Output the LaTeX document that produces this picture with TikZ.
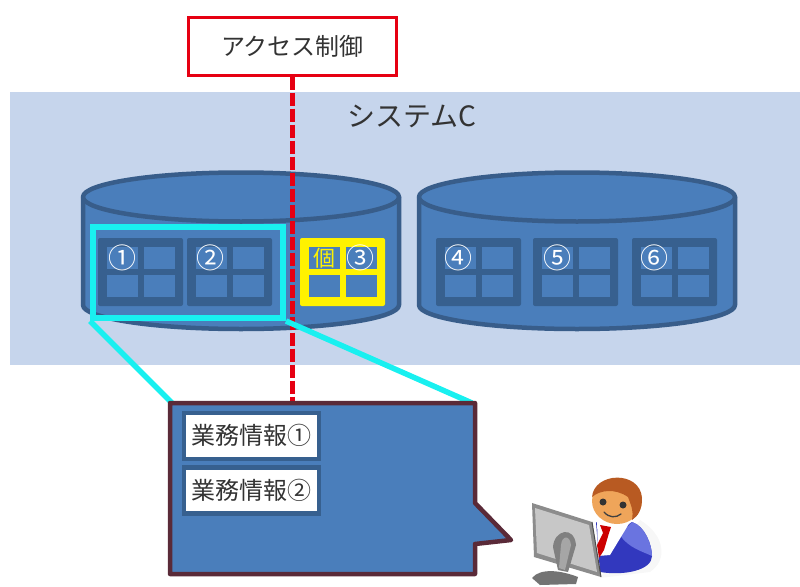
\documentclass[tikz,border=0pt]{standalone}
\usepackage{fontspec}
\setmainfont{Noto Sans CJK JP}
\usetikzlibrary{calc}
\definecolor{band}{HTML}{C6D5EC}
\definecolor{cylfill}{HTML}{4A7EBB}
\definecolor{cylline}{HTML}{385D8A}
\definecolor{gridline}{HTML}{37608F}
\definecolor{cyanline}{HTML}{19F0F0}
\definecolor{redline}{HTML}{E60012}
\definecolor{yel}{HTML}{FFF200}
\definecolor{wine}{HTML}{5A2A38}
\definecolor{suit}{HTML}{3238BE}
\definecolor{suitlight}{HTML}{6A74E0}
\definecolor{skin}{HTML}{EFA55A}
\definecolor{hair}{HTML}{B85A22}
\tikzset{
  cyl/.style={fill=cylfill,draw=cylline,line width=4.5pt,line join=round},
  gridbox/.style={fill=#1,rounded corners=2pt},
  cell/.style={fill=cylfill},
  num/.style={inner sep=0pt,font=\fontsize{28}{28}\selectfont,text=#1},
  infotxt/.style={inner sep=0pt,font=\fontsize{24}{24}\selectfont,text=black!80},
  infowhite/.style={fill=white,draw=gridline,line width=4.5pt,minimum width=135pt,minimum height=46pt,inner sep=0pt,anchor=north west},
}
\newcommand{\drum}[3]{% left, right, name
  \path[cyl] (#1,197) -- (#1,305) arc[start angle=180,end angle=0,x radius={(#2-#1)/2},y radius=24] -- (#2,197) -- cycle;
  \path[cyl] (#1,197) arc[start angle=180,end angle=-180,x radius={(#2-#1)/2},y radius=24.5] coordinate (#3);
}
\newcommand{\blockgrid}[3]{% left x, frame colour, name
  \fill[gridbox=#2] (#1,238) rectangle +(85,68);
  \foreach \dx in {9,46}\foreach \dy in {9,37}{\fill[cell] ($(#1,238)+(\dx,\dy)$) rectangle +(31,22);}
  \coordinate (#3) at ($(#1,238)+(24,20)$);
}
\begin{document}
\begin{tikzpicture}[x=1pt,y=-1pt]
\useasboundingbox (0,0) rectangle (800,586);
\fill[band] (10,92) rectangle (800,365);
\node[inner sep=0pt,font=\fontsize{28}{28}\selectfont,text=black!80] (sys) at (412,116) {システムC};
\drum{83}{399}{drumA}
\drum{419}{735}{drumB}
\blockgrid{98}{gridline}{g1}
\blockgrid{187}{gridline}{g2}
\blockgrid{300}{yel}{g3}
\blockgrid{436}{gridline}{g4}
\blockgrid{533}{gridline}{g5}
\blockgrid{632}{gridline}{g6}
\node[num=white] (n1) at (122,258) {①};
\node[num=white] (n2) at (210,258) {②};
\node[inner sep=0pt,font=\fontsize{22}{22}\selectfont,text=yel] (n0) at (324,258) {個};
\node[num=white] (n3) at (360,258) {③};
\node[num=white] (n4) at (458,258) {④};
\node[num=white] (n5) at (557,258) {⑤};
\node[num=white] (n6) at (654,258) {⑥};
% access control
\node[draw=redline,fill=white,line width=2.2pt,minimum width=208pt,minimum height=58pt,inner sep=0pt,font=\fontsize{24}{24}\selectfont,text=black!80] (ctrl) at (292.5,46.5) {アクセス制御};
\coordinate (calltop) at (292.5,403);
\draw[redline,line width=4.5pt,dash pattern=on 13pt off 3pt] (ctrl.south) -- (calltop);
% selection frame
\node[draw=cyanline,line width=6pt,minimum width=190pt,minimum height=91pt,inner sep=0pt] (sel) at (188,272.5) {};
\coordinate (callTL) at (172,403);
\coordinate (callTR) at (472,403);
\draw[cyanline,line width=5.5pt] (sel.south west) -- (callTL);
\draw[cyanline,line width=5.5pt] (sel.south east) -- (callTR);
% callout
\draw[fill=cylfill,draw=wine,line width=4.5pt,line join=round] (170,403) -- (475,403) -- (475,503) -- (511,540) -- (475,544) -- (475,574) -- (170,574) -- cycle;
\node[infowhite] (i1) at (181.5,410.5) {};
\node[infotxt] (t1) at (i1.center) {業務情報①};
\node[infowhite] (i2) at (181.5,465) {};
\node[infotxt] (t2) at (i2.center) {業務情報②};
% person at the computer
\fill[black!3] (640,520) .. controls (665,535) and (668,560) .. (650,572) -- (600,578) -- cycle;
\fill[suit] (596,522) .. controls (605,530) and (622,530) .. (632,522) .. controls (645,526) and (652,545) .. (652,556) .. controls (652,570) and (625,576) .. (600,572) -- cycle;
\fill[suitlight] (632,522) .. controls (645,526) and (652,545) .. (652,556) .. controls (644,552) and (628,548) .. (620,535) -- cycle;
\fill[white] (597,520) -- (630,522) -- (610,555) -- (598,556) -- cycle;
\fill[red!80!black] (600,525) -- (611,527) -- (609,533) -- (604,550) -- (599,558) -- (597,545) -- (603,533) -- cycle;
\fill[skin] (617,501) ellipse[x radius=25,y radius=23];
\fill[hair] (592,497) .. controls (594,472) and (640,470) .. (642,498) .. controls (642,510) and (638,516) .. (632,520) .. controls (634,510) and (630,503) .. (628,497) .. controls (615,488) and (600,490) .. (592,497) -- cycle;
\fill[black!80] (603,502) circle[radius=3.5];
\fill[black!80] (623,505) circle[radius=3.5];
\draw[black!75,line width=1.3pt,line cap=round] (604,512) .. controls (609,518) and (616,518) .. (621,514);
\fill[black!45] (532,503) -- (592,522) -- (601,577) -- (534,557) -- cycle;
\fill[black!22] (535,508) -- (589,525) -- (597,572) -- (537,553) -- cycle;
\draw[black!70,line width=1pt] (592,522) -- (601,577);
\fill[black!50] (553,547) .. controls (554,530) and (574,525) .. (576,545) -- (568,572) -- (558,570) -- cycle;
\fill[black!35] (561,545) .. controls (562,535) and (570,535) .. (571,545) -- (565,570) -- (559,568) -- cycle;
\fill[black!55] (532,578) .. controls (540,568) and (560,570) .. (578,577) -- (576,584) -- (540,585) -- cycle;
\end{tikzpicture}
\end{document}
